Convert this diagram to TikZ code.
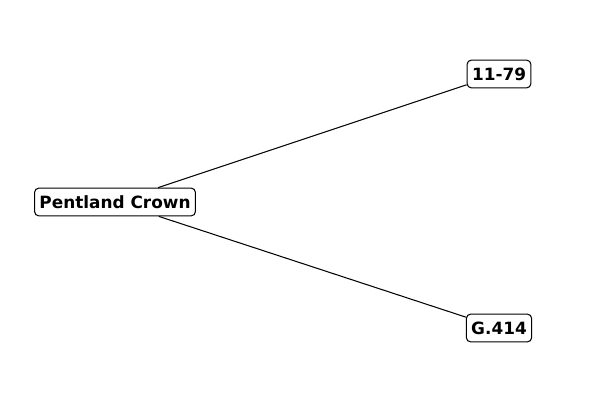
\documentclass[tikz,border=0pt]{standalone}
\usepackage{fontspec}
\setmainfont{DejaVu Sans}
\usetikzlibrary{positioning}

\begin{document}
\begin{tikzpicture}
      [x=0.01in,y=-0.01in
      ,lbl/.style={draw=black,fill=white,line width=0.75pt,rounded corners=3pt
                  ,inner sep=3.5pt,minimum height=20pt
                  ,font=\fontsize{12.2}{14}\selectfont\bfseries}
      ,edge/.style={draw=black,line width=0.75pt}
      ]
        \useasboundingbox (0,0) rectangle (600,400);

        \node[lbl] (pc) at (115,202) {Pentland Crown};
        \node[lbl] (n1) at (499,74) {11-79};
        \node[lbl] (n2) at (499,328) {G.414};

        \foreach \t in {n1, n2}
        {
            \draw[edge] (pc) -- (\t);
        }

\end{tikzpicture}
\end{document}
